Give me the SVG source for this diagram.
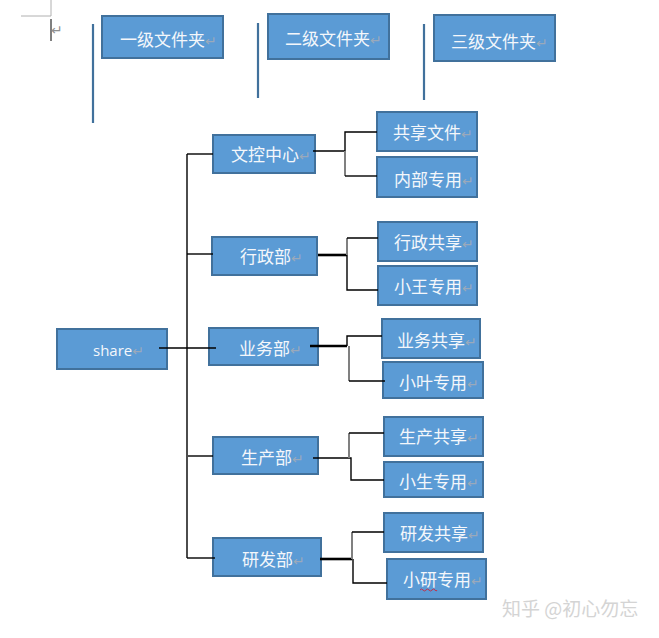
<svg xmlns="http://www.w3.org/2000/svg" width="659" height="638" viewBox="0 0 659 638">
<style>
.box{fill:#5b9bd5;stroke:#41719c;stroke-width:2}
.t{font-family:"Noto Sans CJK SC","Noto Sans",sans-serif;font-size:17px;fill:#f4f7fb}
.lat{font-family:"Open Sans","Liberation Sans",sans-serif;font-size:15px;fill:#f4f7fb}
.pm{font-family:"DejaVu Sans",sans-serif;font-size:14px;fill:#9aa9bb}
.c{fill:none;stroke:#000;stroke-width:1.4}
.ck{fill:none;stroke:#000;stroke-width:2.6}
.cg{fill:none;stroke:#808080;stroke-width:2}
.vl{stroke:#41719c;stroke-width:2.2}
.wm{font-family:"Noto Sans CJK SC",sans-serif;font-size:19px;fill:#d4d4d4}
</style>
<rect width="659" height="638" fill="#fff"/>
<!-- page corner marks -->
<path d="M21 16H51V0" fill="none" stroke="#b0b0b0" stroke-width="1"/>
<line x1="51" y1="19" x2="51" y2="41" stroke="#000" stroke-width="1"/>
<text x="51" y="35" class="pm" style="fill:#909090">↵</text>

<!-- legend -->
<g id="legend1">
<line class="vl" x1="93" y1="24" x2="93" y2="123"/>
<rect class="box" x="102" y="16" width="121" height="42"/>
<text x="120" y="46" class="t">一级文件夹<tspan class="pm">↵</tspan></text>
</g>
<g id="legend2">
<line class="vl" x1="258" y1="23" x2="258" y2="98"/>
<rect class="box" x="268" y="14" width="121" height="45"/>
<text x="285" y="45" class="t">二级文件夹<tspan class="pm">↵</tspan></text>
</g>
<g id="legend3">
<line class="vl" x1="424" y1="24" x2="424" y2="100"/>
<rect class="box" x="434" y="15" width="121" height="46"/>
<text x="451" y="48" class="t">三级文件夹<tspan class="pm">↵</tspan></text>
</g>

<!-- nodes -->
<g id="share"><rect class="box" x="57" y="329" width="110" height="40"/><text x="93" y="356" class="lat">share<tspan class="pm">↵</tspan></text></g>
<g id="wenkong"><rect class="box" x="213" y="135" width="102" height="38"/><text x="231" y="161" class="t">文控中心<tspan class="pm">↵</tspan></text></g>
<g id="xingzheng"><rect class="box" x="212" y="237" width="105" height="38"/><text x="240" y="263" class="t">行政部<tspan class="pm">↵</tspan></text></g>
<g id="yewu"><rect class="box" x="209" y="328" width="109" height="37"/><text x="239" y="355" class="t">业务部<tspan class="pm">↵</tspan></text></g>
<g id="shengchan"><rect class="box" x="213" y="437" width="105" height="37"/><text x="241" y="464" class="t">生产部<tspan class="pm">↵</tspan></text></g>
<g id="yanfa"><rect class="box" x="213" y="538" width="108" height="38"/><text x="242" y="566" class="t">研发部<tspan class="pm">↵</tspan></text></g>

<g id="gongxiang"><rect class="box" x="377" y="112" width="100" height="39"/><text x="393" y="139" class="t">共享文件<tspan class="pm">↵</tspan></text></g>
<g id="neibu"><rect class="box" x="377" y="157" width="100" height="40"/><text x="394" y="186" class="t">内部专用<tspan class="pm">↵</tspan></text></g>
<g id="xzgx"><rect class="box" x="378" y="222" width="99" height="39"/><text x="394" y="249" class="t">行政共享<tspan class="pm">↵</tspan></text></g>
<g id="xiaowang"><rect class="box" x="378" y="266" width="99" height="39"/><text x="394" y="293" class="t">小王专用<tspan class="pm">↵</tspan></text></g>
<g id="ywgx"><rect class="box" x="382" y="319" width="98" height="39"/><text x="397" y="347" class="t">业务共享<tspan class="pm">↵</tspan></text></g>
<g id="xiaoye"><rect class="box" x="383" y="362" width="100" height="36"/><text x="399" y="389" class="t">小叶专用<tspan class="pm">↵</tspan></text></g>
<g id="scgx"><rect class="box" x="384" y="417" width="99" height="39"/><text x="399" y="443" class="t">生产共享<tspan class="pm">↵</tspan></text></g>
<g id="xiaosheng"><rect class="box" x="384" y="462" width="99" height="35"/><text x="399" y="488" class="t">小生专用<tspan class="pm">↵</tspan></text></g>
<g id="yfgx"><rect class="box" x="384" y="513" width="99" height="39"/><text x="400" y="540" class="t">研发共享<tspan class="pm">↵</tspan></text></g>
<g id="xiaoyan"><rect class="box" x="387" y="559" width="99" height="40"/><text x="403" y="586" class="t">小研专用<tspan class="pm">↵</tspan></text>
<path d="M420 590q1.5 -2 3 0t3 0t3 0t3 0t3 0t2 0" fill="none" stroke="#c0304a" stroke-width="1"/></g>

<!-- connectors -->
<g id="connectors">
<path class="c" d="M187 154V558"/>
<path class="c" d="M159 348H216"/>
<path class="c" d="M187 154H213"/>
<path class="c" d="M187 254H213"/>
<path class="c" d="M188 456H213"/>
<path class="c" d="M187 558H215"/>

<path class="c" d="M313 151H345M377 132H345V151"/>
<path class="cg" d="M345 151V176"/>
<path class="c" d="M345 176H377"/>

<path class="ck" d="M318 255H347"/>
<path class="cg" d="M347 238V255"/>
<path class="c" d="M378 238H347M347 255V290H378"/>

<path class="ck" d="M310 346H347"/>
<path class="c" d="M382 336H347V346"/>
<path class="cg" d="M349 346V381"/>
<path class="c" d="M349 381H385"/>

<path class="c" d="M313 458H351V480H384"/>
<path class="cg" d="M349 433V458"/>
<path class="c" d="M349 433H384"/>

<path class="ck" d="M320 559H352"/>
<path class="cg" d="M352 532V559"/>
<path class="c" d="M352 532H384M353 559V583H387"/>
</g>

<text x="502" y="616" class="wm">知乎 @初心勿忘</text>
</svg>
